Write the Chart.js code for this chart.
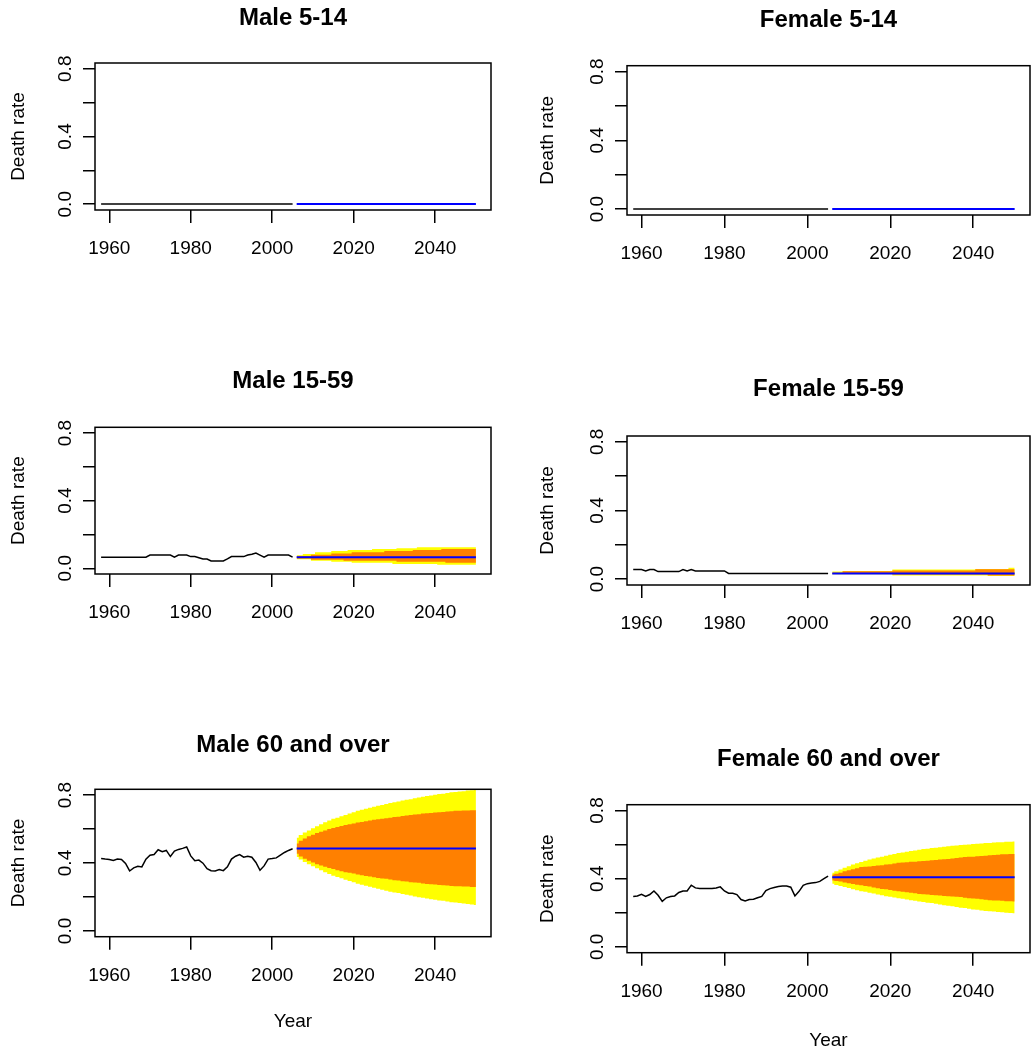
<!DOCTYPE html>
<html>
<head>
<meta charset="utf-8">
<script src="https://cdn.jsdelivr.net/npm/chart.js@4.4.0/dist/chart.umd.min.js"></script>
<style>
  body { margin: 0; background: #fff; width: 1031px; height: 1052px; position: relative; overflow: hidden; }
  canvas { position: absolute; }
</style>
</head>
<body>
<canvas id="c1"></canvas>
<canvas id="c2"></canvas>
<canvas id="c3"></canvas>
<canvas id="c4"></canvas>
<canvas id="c5"></canvas>
<canvas id="c6"></canvas>
<script>
// years
const histYears = [1958,1959,1960,1961,1962,1963,1964,1965,1966,1967,1968,1969,1970,1971,1972,1973,
  1974,1975,1976,1977,1978,1979,1980,1981,1982,1983,1984,1985,1986,1987,1988,1989,1990,1991,1992,1993,
  1994,1995,1996,1997,1998,1999,2000,2001,2002,2003,2004,2005];
const fcYears = [2006,2007,2008,2009,2010,2011,2012,2013,2014,2015,2016,2017,2018,2019,2020,2021,2022,
  2023,2024,2025,2026,2027,2028,2029,2030,2031,2032,2033,2034,2035,2036,2037,2038,2039,2040,2041,2042,
  2043,2044,2045,2046,2047,2048,2049,2050];
const xTicks = [1960, 1980, 2000, 2020, 2040];
const yTicks = [0, 0.2, 0.4, 0.6, 0.8];
const yTickLabels = ['0.0', '', '0.4', '', '0.8'];

// 5-14
const male514Hist = [.001,.001,.001,.001,.001,.001,.001,.001,.001,.001,.001,.001,.001,.001,.001,.001,
  .001,.001,.001,.001,.001,.001,.001,.001,.001,.001,.001,.001,.001,.001,.001,.001,.001,.001,.001,.001,
  .001,.001,.001,.001,.001,.001,.001,.001,.001,.001,.001,.001];
const male514Mean = [.001,.001,.001,.001,.001,.001,.001,.001,.001,.001,.001,.001,.001,.001,.001,.001,
  .001,.001,.001,.001,.001,.001,.001,.001,.001,.001,.001,.001,.001,.001,.001,.001,.001,.001,.001,.001,
  .001,.001,.001,.001,.001,.001,.001,.001,.001];
const female514Hist = [.001,.001,.001,.001,.001,.001,.001,.001,.001,.001,.001,.001,.001,.001,.001,.001,
  .001,.001,.001,.001,.001,.001,.001,.001,.001,.001,.001,.001,.001,.001,.001,.001,.001,.001,.001,.001,
  .001,.001,.001,.001,.001,.001,.001,.001,.001,.001,.001,.001];
const female514Mean = [.001,.001,.001,.001,.001,.001,.001,.001,.001,.001,.001,.001,.001,.001,.001,.001,
  .001,.001,.001,.001,.001,.001,.001,.001,.001,.001,.001,.001,.001,.001,.001,.001,.001,.001,.001,.001,
  .001,.001,.001,.001,.001,.001,.001,.001,.001];

// 15-59
const male1559Hist = [.065,.065,.065,.065,.065,.065,.065,.065,.065,.065,.065,.065,.078,.078,.078,.078,
  .078,.078,.066,.078,.078,.078,.069,.069,.062,.055,.055,.043,.043,.043,.043,.055,.069,.069,.069,.069,
  .078,.083,.090,.078,.066,.078,.078,.078,.078,.078,.078,.066];
const male1559Mean = [.065,.065,.065,.065,.065,.065,.065,.065,.065,.065,.065,.065,.065,.065,.065,.065,
  .065,.065,.065,.065,.065,.065,.065,.065,.065,.065,.065,.065,.065,.065,.065,.065,.065,.065,.065,.065,
  .065,.065,.065,.065,.065,.065,.065,.065,.065];
const male1559Hi95 = [.077,.077,.084,.084,.084,.094,.094,.094,.094,.102,.102,.102,.102,.108,.108,.108,
  .108,.108,.108,.114,.114,.114,.114,.114,.114,.118,.118,.118,.118,.118,.124,.124,.124,.124,.124,.124,
  .124,.124,.124,.124,.124,.124,.124,.124,.124];
const male1559Hi80 = [.073,.073,.073,.073,.080,.080,.080,.080,.080,.088,.088,.088,.088,.088,.094,.094,
  .094,.094,.094,.094,.094,.094,.102,.102,.102,.102,.102,.102,.102,.108,.108,.108,.108,.108,.108,.108,
  .114,.114,.114,.114,.114,.114,.114,.114,.114];
const male1559Lo80 = [.057,.057,.057,.057,.051,.051,.051,.051,.051,.051,.051,.051,.045,.045,.045,.045,
  .045,.045,.045,.045,.045,.045,.045,.045,.045,.039,.039,.039,.039,.039,.039,.039,.039,.039,.039,.039,
  .039,.033,.033,.033,.033,.033,.033,.033,.033];
const male1559Lo95 = [.053,.053,.053,.053,.045,.045,.045,.045,.045,.039,.039,.039,.039,.039,.033,.033,
  .033,.033,.033,.033,.033,.033,.033,.033,.025,.025,.025,.025,.025,.025,.025,.025,.025,.025,.025,.020,
  .020,.020,.020,.020,.020,.020,.020,.020,.020];

const female1559Hist = [.056,.056,.056,.048,.056,.056,.044,.044,.044,.044,.044,.044,.056,.048,.056,.048,
  .048,.048,.048,.048,.048,.048,.048,.033,.033,.033,.033,.033,.033,.033,.033,.033,.033,.033,.033,.033,
  .033,.033,.033,.033,.033,.033,.033,.033,.033,.033,.033,.033];
const female1559Mean = [.033,.033,.033,.033,.033,.033,.033,.033,.033,.033,.033,.033,.033,.033,.033,.033,
  .033,.033,.033,.033,.033,.033,.033,.033,.033,.033,.033,.033,.033,.033,.033,.033,.033,.033,.033,.033,
  .033,.033,.033,.033,.033,.033,.033,.033,.033];
const female1559Hi95 = [.044,.044,.044,.048,.048,.048,.048,.048,.048,.048,.048,.048,.048,.048,.048,.056,
  .056,.056,.056,.056,.056,.056,.056,.056,.056,.056,.056,.056,.056,.056,.056,.056,.056,.056,.056,.059,
  .059,.059,.059,.059,.059,.059,.059,.066,.066];
const female1559Hi80 = [.038,.038,.038,.046,.046,.046,.046,.046,.046,.046,.046,.046,.046,.046,.046,.050,
  .050,.050,.050,.050,.050,.050,.050,.050,.050,.050,.050,.050,.050,.050,.050,.050,.050,.050,.050,.058,
  .058,.058,.058,.058,.058,.058,.058,.058,.058];
const female1559Lo80 = [.030,.030,.030,.030,.030,.030,.030,.030,.030,.030,.030,.030,.030,.030,.030,.027,
  .027,.027,.027,.027,.027,.027,.027,.027,.027,.027,.027,.027,.027,.027,.027,.027,.027,.027,.027,.027,
  .027,.027,.021,.021,.021,.021,.021,.021,.021];
const female1559Lo95 = [.028,.028,.028,.028,.028,.028,.028,.028,.028,.028,.028,.028,.028,.028,.028,.022,
  .022,.022,.022,.022,.022,.022,.022,.022,.022,.022,.022,.022,.022,.022,.022,.022,.022,.022,.022,.022,
  .022,.022,.019,.019,.019,.019,.019,.019,.019];

// 60 and over
const male60Hist = [.426,.423,.421,.415,.423,.421,.397,.353,.371,.381,.377,.423,.446,.450,.478,.466,
  .474,.438,.470,.480,.486,.494,.442,.413,.417,.399,.367,.355,.353,.361,.355,.377,.423,.440,.450,.434,
  .440,.434,.403,.357,.383,.423,.426,.430,.446,.462,.474,.484];
const male60Mean = [.485,.485,.485,.485,.485,.485,.485,.485,.485,.485,.485,.485,.485,.485,.485,.485,
  .485,.485,.485,.485,.485,.485,.485,.485,.485,.485,.485,.485,.485,.485,.485,.485,.485,.485,.485,.485,
  .485,.485,.485,.485,.485,.485,.485,.485,.485];
const male60Hi95 = [.549,.565,.579,.592,.604,.616,.628,.640,.650,.660,.667,.675,.683,.691,.699,.707,
  .713,.719,.725,.731,.737,.742,.748,.754,.758,.762,.768,.772,.776,.782,.786,.790,.794,.798,.802,.806,
  .808,.812,.816,.818,.821,.823,.827,.829,.833];
const male60Hi80 = [.515,.531,.545,.557,.567,.577,.584,.592,.600,.606,.612,.618,.624,.628,.632,.638,
  .642,.646,.650,.654,.658,.661,.663,.667,.671,.673,.677,.679,.683,.685,.687,.691,.693,.695,.697,.699,
  .701,.703,.705,.707,.707,.709,.709,.711,.711];
const male60Lo80 = [.455,.439,.425,.413,.403,.393,.386,.378,.370,.364,.358,.352,.346,.342,.338,.332,
  .328,.324,.320,.316,.312,.309,.307,.303,.299,.297,.293,.291,.287,.285,.283,.279,.277,.275,.273,.271,
  .269,.267,.265,.263,.263,.261,.261,.259,.259];
const male60Lo95 = [.436,.420,.406,.393,.381,.369,.357,.345,.335,.325,.318,.310,.302,.294,.286,.278,
  .272,.266,.260,.254,.248,.243,.237,.231,.227,.223,.217,.213,.209,.203,.199,.195,.191,.187,.183,.179,
  .177,.173,.169,.167,.164,.162,.158,.156,.152];

const female60Hist = [.296,.299,.309,.296,.307,.328,.303,.267,.288,.296,.299,.319,.328,.328,.362,.346,
  .342,.342,.342,.342,.346,.352,.328,.315,.315,.307,.278,.270,.278,.280,.288,.296,.330,.342,.348,.354,
  .357,.357,.350,.299,.326,.361,.371,.375,.377,.384,.400,.415];
const female60Mean = [.409,.409,.409,.409,.409,.409,.409,.409,.409,.409,.409,.409,.409,.409,.409,.409,
  .409,.409,.409,.409,.409,.409,.409,.409,.409,.409,.409,.409,.409,.409,.409,.409,.409,.409,.409,.409,
  .409,.409,.409,.409,.409,.409,.409,.409,.409];
const female60Hi95 = [.435,.444,.454,.464,.473,.483,.491,.498,.506,.512,.518,.524,.529,.535,.541,.545,
  .551,.554,.558,.562,.566,.570,.574,.576,.580,.581,.585,.587,.591,.593,.595,.597,.599,.601,.603,.605,
  .607,.609,.610,.612,.614,.614,.616,.616,.618];
const female60Hi80 = [.425,.429,.435,.444,.450,.456,.462,.468,.470,.472,.475,.477,.479,.483,.485,.489,
  .493,.495,.497,.499,.500,.502,.504,.506,.508,.510,.512,.514,.516,.518,.522,.524,.527,.529,.529,.531,
  .533,.535,.537,.539,.541,.543,.543,.545,.545];
const female60Lo80 = [.390,.386,.383,.377,.373,.369,.365,.361,.357,.354,.348,.344,.340,.338,.334,.330,
  .327,.323,.321,.317,.315,.311,.309,.307,.305,.303,.301,.299,.297,.296,.294,.292,.288,.286,.284,.282,
  .280,.276,.274,.272,.272,.270,.268,.268,.267];
const female60Lo95 = [.371,.363,.357,.352,.346,.338,.332,.327,.323,.317,.313,.307,.303,.297,.294,.290,
  .286,.282,.278,.274,.270,.267,.263,.259,.257,.253,.249,.245,.241,.238,.234,.230,.228,.224,.220,.218,
  .214,.210,.209,.207,.205,.203,.201,.199,.197];

const FONT = "'Liberation Sans', Arial, sans-serif";

// canvas placement and plot box [left, top, right, bottom] in page pixels
const panels = [
  { id: 'c1', title: 'Male 5-14', hist: male514Hist, mean: male514Mean,
    cx: 0, cy: 0, cw: 515, ch: 300, box: [95, 63, 491, 210], titleY: 18.4, ylabX: 18.4 },
  { id: 'c2', title: 'Female 5-14', hist: female514Hist, mean: female514Mean,
    cx: 515, cy: 0, cw: 516, ch: 300, box: [627, 65.7, 1030, 215], titleY: 20, ylabX: 547.7 },
  { id: 'c3', title: 'Male 15-59', hist: male1559Hist, mean: male1559Mean,
    hi95: male1559Hi95, hi80: male1559Hi80, lo80: male1559Lo80, lo95: male1559Lo95,
    cx: 0, cy: 350, cw: 515, ch: 310, box: [95, 427.3, 491, 574], titleY: 381.7, ylabX: 18.4 },
  { id: 'c4', title: 'Female 15-59', hist: female1559Hist, mean: female1559Mean,
    hi95: female1559Hi95, hi80: female1559Hi80, lo80: female1559Lo80, lo95: female1559Lo95,
    cx: 515, cy: 350, cw: 516, ch: 310, box: [627, 436, 1030, 585], titleY: 389, ylabX: 547.7 },
  { id: 'c5', title: 'Male 60 and over', hist: male60Hist, mean: male60Mean,
    hi95: male60Hi95, hi80: male60Hi80, lo80: male60Lo80, lo95: male60Lo95,
    cx: 0, cy: 710, cw: 515, ch: 342, box: [95, 789.3, 491, 936.7], titleY: 745, ylabX: 18.4, yearPad: 18.9 },
  { id: 'c6', title: 'Female 60 and over', hist: female60Hist, mean: female60Mean,
    hi95: female60Hi95, hi80: female60Hi80, lo80: female60Lo80, lo95: female60Lo95,
    cx: 515, cy: 710, cw: 516, ch: 342, box: [627, 804.7, 1030, 952.7], titleY: 759, ylabX: 547.7, yearPad: 0 }
];

function pts(xs, ys) { return xs.map((x, i) => ({ x: x, y: ys[i] })); }

// R style box round the plot region
const boxPlugin = {
  id: 'rbox',
  afterDraw(chart) {
    const a = chart.chartArea, ctx = chart.ctx;
    ctx.save();
    ctx.strokeStyle = '#000';
    ctx.lineWidth = 1.5;
    ctx.strokeRect(a.left, a.top, a.right - a.left, a.bottom - a.top);
    ctx.restore();
  }
};

function makePanel(p) {
  const cv = document.getElementById(p.id);
  cv.width = p.cw; cv.height = p.ch;
  cv.style.left = p.cx + 'px'; cv.style.top = p.cy + 'px';
  const [L, T, R, B] = p.box;
  const none = 'rgba(0,0,0,0)';

  const datasets = [
    { data: pts(histYears, p.hist), borderColor: '#000', borderWidth: 1.5, fill: false, order: 1 },
    { data: pts(fcYears, p.mean), borderColor: '#0000ff', borderWidth: 2, fill: false, order: 2 }
  ];
  if (p.hi80) {
    datasets.push(
      { data: pts(fcYears, p.hi80), stepped: 'middle', fill: '+1', backgroundColor: '#ff8000', borderColor: none, borderWidth: 0, order: 3 },
      { data: pts(fcYears, p.lo80), stepped: 'middle', fill: false, borderColor: none, borderWidth: 0, order: 3 },
      { data: pts(fcYears, p.hi95), stepped: 'middle', fill: '+1', backgroundColor: '#ffff00', borderColor: none, borderWidth: 0, order: 4 },
      { data: pts(fcYears, p.lo95), stepped: 'middle', fill: false, borderColor: none, borderWidth: 0, order: 4 }
    );
  }

  new Chart(cv, {
    type: 'line',
    data: { datasets: datasets },
    plugins: [boxPlugin],
    options: {
      responsive: false,
      animation: false,
      events: [],
      layout: { padding: { left: 0, right: p.cx + p.cw - R, top: 0, bottom: 0 } },
      elements: { point: { radius: 0 }, line: { tension: 0 } },
      plugins: {
        legend: { display: false },
        tooltip: { enabled: false },
        title: {
          display: true, text: p.title, fullSize: false, color: '#000',
          font: { family: FONT, size: 24, weight: 'bold', lineHeight: 1.2 },
          padding: { top: p.titleY - p.cy - 14.4, bottom: T - p.titleY - 14.4 }
        }
      },
      scales: {
        x: {
          type: 'linear', min: 1956.5, max: 2053.7,
          afterBuildTicks: s => { s.ticks = xTicks.map(v => ({ value: v })); },
          afterFit: s => { s.height = p.cy + p.ch - B; s.paddingLeft = 0; s.paddingRight = 0; },
          border: { display: false },
          grid: { drawOnChartArea: false, tickLength: 13, color: '#000', lineWidth: 1.5 },
          ticks: { autoSkip: false, maxRotation: 0, minRotation: 0, padding: 14.6, color: '#000',
                   font: { family: FONT, size: 19 }, callback: v => String(v) },
          title: { display: p.yearPad !== undefined, text: 'Year', color: '#000',
                   font: { family: FONT, size: 19 }, padding: { top: 0, bottom: p.yearPad || 0 } }
        },
        y: {
          type: 'linear', min: -0.034, max: 0.834,
          afterBuildTicks: s => { s.ticks = yTicks.map(v => ({ value: v })); },
          afterFit: s => { s.width = L - p.cx; s.paddingTop = 0; s.paddingBottom = 0; },
          border: { display: false },
          grid: { drawOnChartArea: false, tickLength: 12, color: '#000', lineWidth: 1.5 },
          ticks: { minRotation: 90, maxRotation: 90, crossAlign: 'center', padding: 4.5, color: '#000',
                   font: { family: FONT, size: 19 }, callback: (v, i) => yTickLabels[i] },
          title: { display: true, text: 'Death rate', color: '#000',
                   font: { family: FONT, size: 19 }, padding: { top: p.ylabX - p.cx - 11.4, bottom: 0 } }
        }
      }
    }
  });
}

panels.forEach(makePanel);
</script>
</body>
</html>
